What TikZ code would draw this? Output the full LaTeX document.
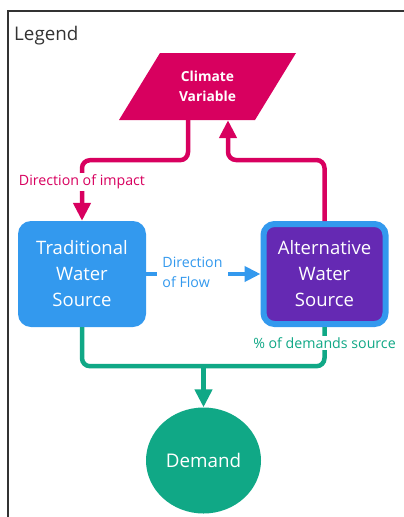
\documentclass[tikz,border=0pt]{standalone}
\usepackage{fontspec}
\setmainfont{Open Sans}
\usetikzlibrary{positioning,calc,arrows.meta,shapes.geometric}
\definecolor{cvmagenta}{HTML}{D8005F}
\definecolor{wsblue}{HTML}{3399EE}
\definecolor{wspurple}{HTML}{6529B3}
\definecolor{dmgreen}{HTML}{10A886}
\definecolor{framegray}{HTML}{333333}

\begin{document}
\begin{tikzpicture}[x=1pt, y=-1pt,
  source/.style={rounded corners=13pt, minimum width=128pt, minimum height=106pt, inner sep=0pt,
    align=center, text=white, font=\fontsize{18.5}{26}\selectfont},
  impact/.style={draw=cvmagenta, line width=4.5pt, rounded corners=8pt},
  flow/.style={draw=wsblue, line width=4.5pt},
  supply/.style={draw=dmgreen, line width=4.5pt, rounded corners=8pt},
  lbl/.style={fill=white, inner sep=1.5pt, font=\fontsize{14.2}{20}\selectfont, align=left},
  headtip/.style={-{Triangle[length=18pt, width=17pt]}},
]
\useasboundingbox (0,0) rectangle (404,517);
% ---------- frame and title ----------
\draw[framegray, line width=2pt] (404,10.5) -- (7.5,10.5) -- (7.5,517);
\node[anchor=base west, text=framegray, font=\fontsize{18.8}{22}\selectfont, inner sep=0pt] (legend) at (14,40) {Legend};

% ---------- climate variable (parallelogram) ----------
\coordinate (cvc) at (207.5,86.5);
\fill[cvmagenta] ($(cvc)+(-88.5,33.5)$) -- ($(cvc)+(47.5,33.5)$) -- ($(cvc)+(88.5,-33.5)$) -- ($(cvc)+(-47.5,-33.5)$) -- cycle;
\node[minimum width=136pt, minimum height=67pt, inner sep=0pt, align=center, text=white,
  font=\fontsize{13.8}{20}\selectfont\bfseries] (climate) at (cvc) {Climate\\Variable};

% ---------- water sources and demand ----------
\node[source, fill=wsblue] (trad) at (82,274) {Traditional\\Water\\Source};
\node[source, fill=wspurple, draw=wsblue, line width=6pt, minimum width=122pt, minimum height=100pt,
  rounded corners=11pt] (alt) at (324.5,274) {Alternative\\Water\\Source};
\node[ellipse, fill=dmgreen, minimum width=115pt, minimum height=106pt, inner sep=0pt, text=white,
  font=\fontsize{18.8}{22}\selectfont] (demand) at (203.5,460.5) {Demand};

% ---------- impact (magenta) ----------
\draw[impact, headtip] ($(climate.south)+(-19.5,0)$) -- ++(0,40) -| (trad.north);
\draw[impact, headtip] (alt.north) -- ++(0,-61) -| ($(climate.south)+(20.5,0)$);
\node[lbl, text=cvmagenta] (impactlbl) at (trad.north |- 0,182) {Direction of impact};

% ---------- flow (blue) ----------
\draw[flow, -{Triangle[length=16pt, width=15pt]}] (trad.east) -- (alt.west);
\node[lbl, text=wsblue, inner xsep=5pt] (flowlbl) at (192.5,272) {Direction\\of Flow};

% ---------- supply (green) ----------
\draw[supply] (trad.south) -- ++(0,39) -| (alt.south);
\draw[supply, headtip] (demand.north |- 0,366) -- (demand.north);
\node[lbl, text=dmgreen] (sharelbl) at (alt.south |- 0,343) {\% of demands source};
\end{tikzpicture}
\end{document}
